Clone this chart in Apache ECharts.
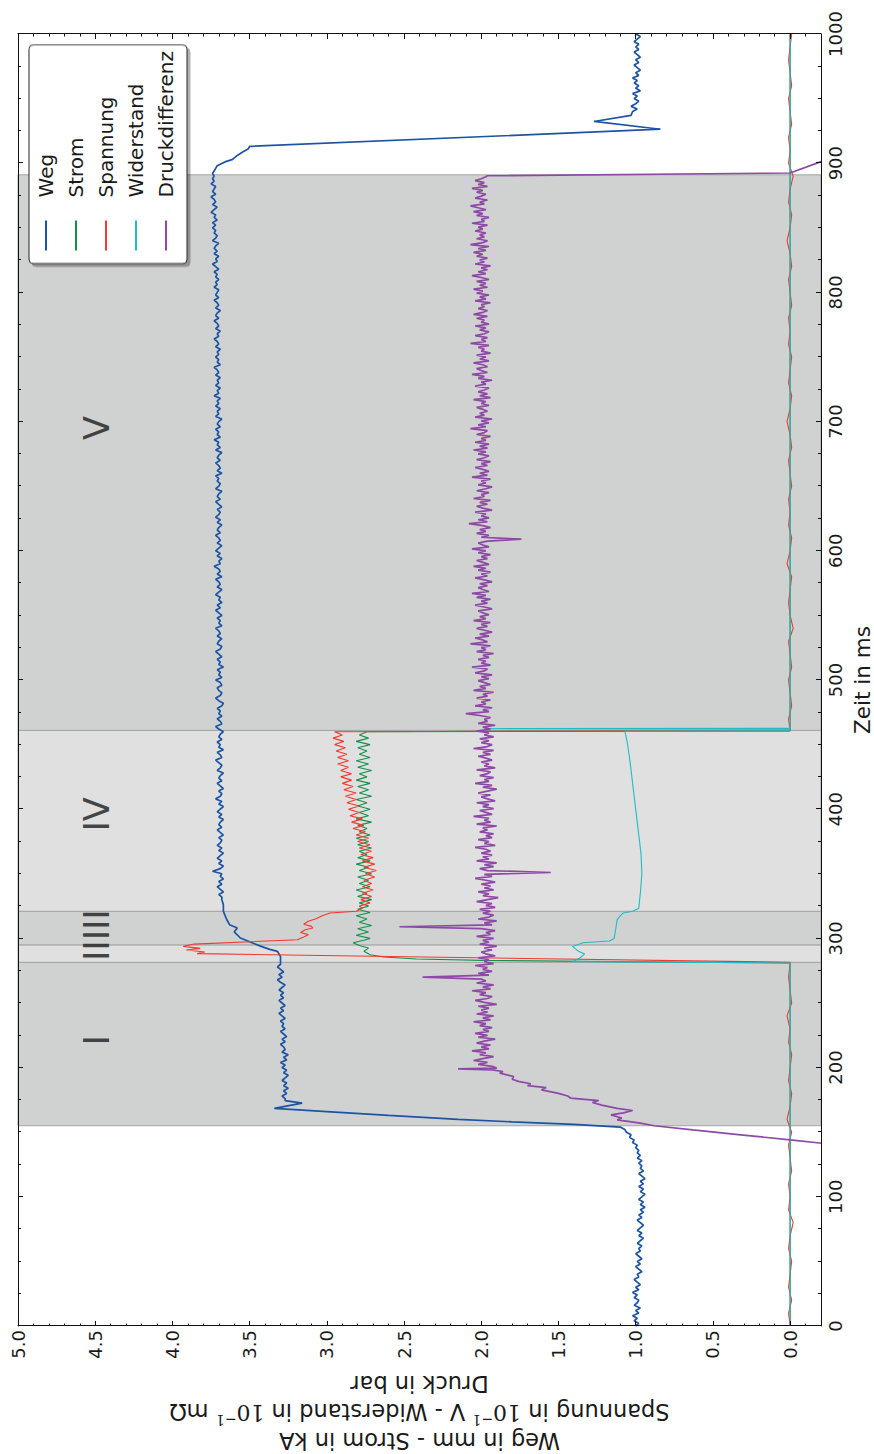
<!DOCTYPE html>
<html>
<head>
<meta charset="utf-8">
<script src="https://cdn.jsdelivr.net/npm/echarts@6/dist/echarts.min.js"></script>
<style>
  html, body { margin: 0; padding: 0; background: #fff; overflow: hidden; width: 874px; height: 1454px; }
  /* the figure is laid out in landscape and turned a quarter turn counter-clockwise */
  #turn { position: absolute; left: 0; top: 0; width: 1454px; height: 874px;
          transform-origin: 0 0; transform: translateY(1454px) rotate(-90deg); }
  #chart { width: 1454px; height: 874px; }
</style>
</head>
<body>
<div id="turn"><div id="chart"></div></div>
<script>
// ---------------- measured data (time in ms) ----------------
const seriesNames = ['Weg', 'Strom', 'Spannung', 'Widerstand', 'Druckdifferenz'];

// Weg [mm]
const wegStart = [ // 0..152 ms, every 2 ms
  1.00, 0.98, 1.01, 0.99, 1.02, 0.98, 1.00, 0.97, 1.01, 0.99,
  0.98, 1.01, 0.99, 1.02, 0.98, 1.00, 0.97, 0.99, 1.01, 0.98,
  0.99, 0.96, 0.98, 1.00, 0.97, 0.99, 0.96, 0.98, 1.00, 0.97,
  0.98, 0.96, 0.99, 0.97, 0.95, 0.98, 0.96, 0.99, 0.97, 0.95,
  0.97, 0.99, 0.96, 0.98, 0.95, 0.97, 0.94, 0.97, 0.95, 0.98,
  0.96, 0.94, 0.97, 0.95, 0.98, 0.95, 0.97, 0.94, 0.96, 0.98,
  0.95, 0.97, 0.96, 0.98, 0.96, 0.99, 0.97, 0.99, 0.98, 1.00,
  0.99, 1.02, 1.01, 1.04, 1.03, 1.06, 1.07];
const wegRise = [[154, 1.10], [156, 1.40], [158, 1.80], [160, 2.15], [163, 2.60], [166, 3.00],
  [168.5, 3.34], [172.5, 3.16], [174.5, 3.27]];
const wegPlateau = [ // 176..280 ms, every 2 ms
  3.27, 3.29, 3.26, 3.28, 3.25, 3.28, 3.26, 3.29, 3.27, 3.25,
  3.28, 3.26, 3.29, 3.27, 3.30, 3.26, 3.28, 3.25, 3.29, 3.27,
  3.28, 3.30, 3.27, 3.29, 3.26, 3.28, 3.30, 3.27, 3.29, 3.28,
  3.30, 3.27, 3.29, 3.31, 3.28, 3.30, 3.27, 3.29, 3.31, 3.28,
  3.30, 3.28, 3.31, 3.29, 3.27, 3.30, 3.32, 3.29, 3.31, 3.28,
  3.30, 3.32, 3.30];
const wegShift = [[286, 3.30], [290, 3.32], [291.5, 3.37], [294, 3.43], [296.4, 3.48], [300.3, 3.56],
  [305, 3.60], [308, 3.58], [310.6, 3.63], [315, 3.65], [320.9, 3.67], [326, 3.67], [330, 3.68]];
const wegHold = [ // 332..890 ms, every 2 ms
  3.68, 3.70, 3.67, 3.69, 3.71, 3.68, 3.70, 3.67, 3.69, 3.68,
  3.74, 3.69, 3.67, 3.70, 3.68, 3.71, 3.69, 3.67, 3.70, 3.68,
  3.71, 3.69, 3.68, 3.70, 3.67, 3.69, 3.71, 3.68, 3.70, 3.69,
  3.67, 3.70, 3.68, 3.71, 3.69, 3.67, 3.70, 3.68, 3.72, 3.69,
  3.68, 3.70, 3.67, 3.69, 3.71, 3.68, 3.70, 3.69, 3.67, 3.71,
  3.69, 3.68, 3.70, 3.72, 3.68, 3.69, 3.71, 3.67, 3.70, 3.69,
  3.71, 3.68, 3.70, 3.69, 3.67, 3.70, 3.72, 3.68, 3.69, 3.71,
  3.68, 3.70, 3.69, 3.71, 3.68, 3.67, 3.70, 3.72, 3.69, 3.68,
  3.70, 3.71, 3.68, 3.69, 3.72, 3.68, 3.70, 3.69, 3.71, 3.67,
  3.70, 3.69, 3.71, 3.68, 3.70, 3.72, 3.69, 3.68, 3.71, 3.70,
  3.68, 3.71, 3.69, 3.70, 3.72, 3.68, 3.70, 3.69, 3.71, 3.68,
  3.70, 3.72, 3.69, 3.71, 3.68, 3.70, 3.69, 3.72, 3.70, 3.68,
  3.71, 3.69, 3.70, 3.72, 3.68, 3.71, 3.69, 3.70, 3.73, 3.69,
  3.70, 3.68, 3.71, 3.69, 3.72, 3.70, 3.68, 3.71, 3.69, 3.70,
  3.72, 3.69, 3.71, 3.70, 3.68, 3.71, 3.69, 3.72, 3.70, 3.69,
  3.71, 3.68, 3.70, 3.72, 3.69, 3.71, 3.70, 3.68, 3.72, 3.70,
  3.69, 3.71, 3.70, 3.72, 3.68, 3.71, 3.69, 3.70, 3.72, 3.69,
  3.71, 3.70, 3.68, 3.72, 3.69, 3.71, 3.70, 3.73, 3.69, 3.71,
  3.70, 3.72, 3.69, 3.71, 3.70, 3.68, 3.72, 3.70, 3.71, 3.69,
  3.72, 3.70, 3.71, 3.69, 3.73, 3.70, 3.71, 3.69, 3.72, 3.70,
  3.71, 3.69, 3.72, 3.70, 3.71, 3.73, 3.69, 3.71, 3.70, 3.72,
  3.70, 3.71, 3.69, 3.72, 3.70, 3.71, 3.73, 3.70, 3.71, 3.69,
  3.72, 3.70, 3.71, 3.73, 3.70, 3.72, 3.71, 3.69, 3.72, 3.70,
  3.71, 3.73, 3.70, 3.72, 3.71, 3.70, 3.73, 3.71, 3.72, 3.70,
  3.72, 3.71, 3.73, 3.70, 3.72, 3.74, 3.71, 3.72, 3.70, 3.73,
  3.71, 3.73, 3.72, 3.70, 3.74, 3.72, 3.71, 3.73, 3.72, 3.74,
  3.72, 3.74, 3.71, 3.73, 3.72, 3.75, 3.73, 3.71, 3.74, 3.72,
  3.73, 3.75, 3.72, 3.74, 3.73, 3.72, 3.75, 3.73, 3.74, 3.73];
const wegDrop = [[892, 3.74], [896, 3.72], [898, 3.71], [901, 3.66], [903, 3.61], [906, 3.58],
  [909, 3.54], [911, 3.51], [913, 3.50], [926.3, 0.84], [932.3, 1.27], [937, 1.03]];
const wegEnd = [ // 940..1000 ms, every 2 ms
  1.02, 0.99, 1.03, 1.00, 0.98, 1.01, 0.99, 1.02, 0.97, 1.00,
  0.98, 1.01, 0.99, 1.02, 0.98, 1.00, 0.97, 0.99, 1.01, 0.98,
  1.00, 0.97, 0.99, 1.01, 0.98, 1.00, 0.98, 1.01, 0.99, 0.97,
  1.00];

// Strom [kA]
const stromRise = [[0, 0], [281, 0.0], [281.6, 0.78], [283, 1.99], [284, 2.42], [285.6, 2.63],
  [287.4, 2.72], [290, 2.76], [292.5, 2.73], [294.5, 2.79], [296.6, 2.83], [298.5, 2.76]];
const stromOsc = [ // 300..460 ms, every 2.5 ms
  2.72, 2.81, 2.73, 2.80, 2.71, 2.79, 2.74, 2.81, 2.72, 2.80,
  2.73, 2.79, 2.71, 2.80, 2.74, 2.81, 2.72, 2.79, 2.73, 2.80,
  2.71, 2.79, 2.73, 2.81, 2.72, 2.80, 2.74, 2.79, 2.71, 2.80,
  2.73, 2.81, 2.72, 2.79, 2.74, 2.80, 2.71, 2.81, 2.73, 2.79,
  2.72, 2.80, 2.74, 2.81, 2.71, 2.79, 2.73, 2.80, 2.72, 2.81,
  2.74, 2.79, 2.71, 2.80, 2.73, 2.81, 2.72, 2.79, 2.74, 2.80,
  2.72, 2.81, 2.73, 2.79, 2.74];
const stromOff = [[460.6, 0.0], [1000, 0.0]];

// Spannung [0.1 V]
const spannungQuiet1 = [ // 0..280 ms, every 10 ms
  0.00, 0.01, -0.01, 0.01, 0.00, -0.01, 0.01, 0.00, -0.02, 0.01,
  0.00, 0.01, -0.01, 0.00, 0.01, -0.01, 0.02, 0.00, -0.01, 0.01,
  0.00, -0.01, 0.01, 0.00, 0.02, -0.01, 0.00, 0.01, 0.00];
const spannungSurge = [[281.5, 0.0], [288.2, 3.84], [289.5, 3.79], [291, 3.91], [292.3, 3.82],
  [293.8, 3.93], [295.6, 3.86], [299, 3.19], [301, 3.15], [302.9, 3.12], [304.5, 3.17],
  [306.7, 3.14], [308, 3.09], [309.3, 3.10], [311, 3.15], [313.3, 3.12], [315.2, 3.07],
  [317.5, 3.03], [319.7, 2.98], [321, 2.81], [323.4, 2.77]];
const spannungOsc = [ // 325..460 ms, every 2.5 ms
  2.79, 2.72, 2.78, 2.71, 2.77, 2.70, 2.77, 2.71, 2.76, 2.69,
  2.75, 2.68, 2.76, 2.69, 2.77, 2.70, 2.78, 2.71, 2.79, 2.72,
  2.80, 2.73, 2.81, 2.75, 2.83, 2.76, 2.84, 2.77, 2.85, 2.79,
  2.86, 2.79, 2.87, 2.81, 2.88, 2.81, 2.89, 2.83, 2.90, 2.84,
  2.91, 2.84, 2.91, 2.86, 2.93, 2.86, 2.93, 2.87, 2.94, 2.88,
  2.95, 2.89, 2.96, 2.90, 2.95];
const spannungCut = [[460.8, 0.0]];
const spannungQuiet2 = [ // 470..1000 ms, every 10 ms
  0.01, -0.01, 0.00, 0.01, -0.01, 0.00, 0.01, -0.02, 0.00, 0.01,
  0.00, -0.01, 0.02, 0.00, -0.01, 0.01, 0.00, 0.01, -0.01, 0.00,
  0.01, -0.01, 0.00, 0.02, 0.00, -0.01, 0.01, 0.00, -0.01, 0.01,
  0.00, 0.01, -0.01, 0.00, 0.01, -0.01, 0.00, 0.02, 0.00, -0.01,
  0.01, 0.00, -0.02, 0.01, 0.00, 0.01, -0.01, 0.00, 0.01, -0.01,
  0.00, 0.01, 0.00, -0.01];

// Widerstand [0.1 mOhm]
const widerstandPoints = [[0, 0], [281, 0.0], [282, 1.41], [285, 1.36], [288, 1.33], [290, 1.37],
  [293.8, 1.41], [296.6, 1.34], [298, 1.17], [300, 1.14], [306.7, 1.13], [314.5, 1.12],
  [317.5, 1.10], [319.7, 1.08], [321, 1.02], [323.4, 0.98], [335, 0.97], [350, 0.96],
  [365, 0.965], [380, 0.98], [395, 0.995], [410, 1.01], [425, 1.025], [440, 1.04],
  [452, 1.055], [460.3, 1.07], [460.8, 0.0], [461.9, 0.0], [462.3, 1.98], [462.7, 0.0], [1000, 0.0]];

// Druckdifferenz [bar]
const druckRamp = [[136, -0.65], [144, 0.0], [148, 0.32], [151.8, 0.63], [155, 0.88], [157, 0.97],
  [159.6, 1.12], [161, 1.09], [163.4, 1.16], [165, 1.08], [166.8, 1.02], [168.5, 1.12], [171, 1.22],
  [173, 1.28], [174.5, 1.24], [176.3, 1.42], [178, 1.44], [180, 1.50], [182.8, 1.61], [184.5, 1.58],
  [186, 1.70], [187.5, 1.68], [189.3, 1.76], [191, 1.80], [193, 1.79], [195.7, 1.88], [197, 1.86],
  [198.2, 1.93], [199, 2.15], [199.6, 1.90]];
const druckNoise = [ // 201..889.5 ms, every 1.5 ms
  1.93, 2.02, 1.96, 2.05, 1.99, 1.92, 2.01, 1.97, 2.06, 1.95,
  2.00, 1.94, 2.03, 1.98, 1.91, 2.02, 1.96, 2.04, 1.95, 1.99,
  1.93, 2.01, 1.97, 2.05, 1.94, 1.99, 1.92, 2.03, 1.96, 2.00,
  1.95, 2.02, 1.90, 1.98, 2.04, 1.96, 1.93, 2.01, 1.97, 2.06,
  1.94, 1.99, 1.92, 2.03, 1.97, 2.00, 2.38, 1.95, 2.02, 1.93,
  1.99, 1.96, 2.04, 1.92, 1.98, 1.95, 2.02, 1.91, 1.97, 2.00,
  1.93, 1.98, 1.90, 2.01, 1.95, 1.99, 1.92, 2.03, 1.94, 1.97,
  1.91, 2.00, 2.53, 1.93, 1.98, 1.90, 2.02, 1.95, 1.92, 1.99,
  1.94, 2.01, 1.91, 1.97, 1.93, 2.03, 1.96, 1.89, 1.99, 1.95,
  2.02, 1.92, 1.98, 1.94, 2.00, 1.91, 1.97, 2.04, 1.93, 1.98,
  1.55, 1.96, 2.01, 1.92, 1.98, 1.90, 2.03, 1.95, 1.99, 1.93,
  2.00, 1.94, 1.97, 2.04, 1.91, 1.98, 1.95, 2.02, 1.93, 1.97,
  1.92, 2.01, 1.96, 1.99, 1.90, 2.03, 1.94, 1.98, 1.95, 2.05,
  1.93, 1.97, 2.01, 1.92, 1.99, 1.95, 2.03, 1.91, 1.96, 2.00,
  1.94, 2.02, 1.96, 1.90, 1.99, 1.93, 2.04, 1.95, 1.98, 1.92,
  2.01, 1.96, 1.94, 2.03, 1.91, 1.98, 1.95, 2.00, 1.93, 1.97,
  2.02, 1.94, 1.99, 1.92, 2.05, 1.96, 1.93, 2.00, 1.95, 2.01,
  1.92, 1.98, 1.95, 2.03, 1.94, 1.99, 1.91, 2.02, 1.96, 1.98,
  1.94, 2.01, 2.10, 1.95, 1.99, 1.93, 2.04, 1.97, 2.00, 1.94,
  2.03, 1.96, 1.99, 1.92, 2.05, 1.97, 2.01, 1.94, 1.98, 2.02,
  1.95, 2.00, 1.93, 2.04, 1.98, 1.96, 2.06, 1.94, 2.00, 1.97,
  2.02, 1.95, 1.99, 1.92, 2.03, 1.97, 2.00, 1.94, 2.07, 1.96,
  1.99, 2.04, 1.95, 2.01, 1.93, 1.98, 2.03, 1.96, 2.00, 1.94,
  2.05, 1.97, 2.01, 1.95, 1.99, 2.02, 1.93, 1.98, 2.04, 1.96,
  2.00, 1.94, 2.03, 1.97, 2.06, 1.95, 1.99, 2.02, 1.96, 2.01,
  1.93, 1.98, 2.04, 1.96, 2.00, 1.94, 2.02, 1.97, 2.05, 1.95,
  1.99, 2.03, 1.96, 2.00, 1.94, 2.02, 1.97, 2.06, 1.95, 1.99,
  2.02, 1.96, 1.74, 2.00, 1.95, 2.03, 1.97, 2.01, 1.94, 1.99,
  2.08, 1.96, 2.02, 1.95, 2.00, 1.97, 2.04, 1.93, 1.99, 2.03,
  1.96, 2.01, 1.94, 2.05, 1.98, 2.00, 1.95, 2.03, 1.97, 1.93,
  2.02, 1.97, 2.00, 1.94, 2.06, 1.96, 2.01, 1.95, 1.99, 2.04,
  1.96, 2.00, 1.94, 2.03, 1.98, 1.95, 2.02, 1.97, 2.05, 1.96,
  2.01, 1.95, 2.04, 1.97, 2.00, 1.94, 2.03, 1.98, 1.96, 2.07,
  1.97, 2.02, 1.95, 2.00, 1.93, 2.04, 1.98, 2.01, 1.96, 1.99,
  2.03, 1.95, 2.00, 1.97, 2.05, 1.94, 2.01, 1.96, 2.02, 1.98,
  1.95, 2.04, 1.97, 2.00, 1.93, 2.02, 1.98, 2.06, 1.96, 2.00,
  2.03, 1.96, 1.99, 2.05, 1.95, 2.01, 1.97, 2.03, 1.94, 2.00,
  1.98, 2.02, 1.95, 2.07, 1.97, 2.00, 1.96, 2.04, 1.98, 1.95,
  2.01, 1.97, 2.04, 1.95, 2.00, 1.98, 2.03, 1.96, 2.05, 1.99,
  1.96, 2.02, 1.98, 2.00, 1.94, 2.04, 1.97, 2.01, 1.95, 2.03,
  1.99, 2.05, 1.96, 2.01, 1.97, 2.03, 1.95, 2.00, 2.06, 1.97,
  2.02, 1.96, 2.00, 1.94, 2.04, 1.98, 2.01, 1.96, 2.03, 1.99,
  2.05, 1.97, 2.02, 1.95, 2.07, 1.99, 1.96, 2.03, 1.98, 2.01,
  1.97, 2.04, 1.99, 2.02, 1.96, 2.06, 1.98, 2.00, 1.95, 2.03,
  1.99, 2.05, 1.97, 2.02, 2.07, 1.98, 2.01, 1.96, 2.04, 2.00,
  1.97, 2.03, 1.99, 2.06, 1.96, 2.02, 1.98, 2.04, 2.00, 1.97];
const druckFall = [[890.3, 1.96], [892.4, 0.0], [901.2, -0.2], [915, -0.55]];

// process phases
const phaseNames = ['I', 'II', 'III', 'IV', 'V'];
const phaseBounds = [155, 281.5, 295, 321, 461, 891];
const phaseLabelTimes = [221, 290.5, 310.5, 396, 695];
const phaseLabelLevel = 4.49;

// axis ranges
const timeRange = [0, 1000];
const valueRange = [-0.2, 5.0];

// ---------------- chart ----------------
const FONT = 'DejaVu Sans';
const INK = '#1a1a1a';
const colors = ['#1c54a4', '#13914b', '#f2382f', '#1fbcc4', '#8e48a6'];
const phaseShades = ['#d0d2d2', '#e0e0e0', '#d0d2d2', '#e0e0e0', '#d0d2d2'];

const seq = (t0, step, values) => values.map((v, i) => [+(t0 + i * step).toFixed(2), v]);

const seriesData = [
  [...seq(0, 2, wegStart), ...wegRise, ...seq(176, 2, wegPlateau), ...wegShift,
   ...seq(332, 2, wegHold), ...wegDrop, ...seq(940, 2, wegEnd)],
  [...stromRise, ...seq(300, 2.5, stromOsc), ...stromOff],
  [...seq(0, 10, spannungQuiet1), ...spannungSurge, ...seq(325, 2.5, spannungOsc),
   ...spannungCut, ...seq(470, 10, spannungQuiet2)],
  widerstandPoints,
  [...druckRamp, ...seq(201, 1.5, druckNoise), ...druckFall]
];
const lineWidths = [1.7, 1.1, 1.1, 1.1, 1.7];

const tickStyle = { color: '#111', width: 1 };
function timeAxis(pos, withLabels) {
  return {
    type: 'value', position: pos, min: timeRange[0], max: timeRange[1], interval: 100, z: 10,
    axisLine: { show: true, onZero: false, lineStyle: tickStyle },
    axisTick: { show: true, inside: true, length: 5, lineStyle: tickStyle },
    minorTick: { show: true, splitNumber: 4, length: 3, lineStyle: tickStyle },
    splitLine: { show: false }, minorSplitLine: { show: false },
    axisLabel: { show: withLabels, margin: 5, fontSize: 18, color: INK, fontFamily: FONT,
      formatter: v => String(v) },
    name: withLabels ? 'Zeit in ms' : '', nameLocation: 'middle', nameGap: 30,
    nameTextStyle: { fontSize: 21.5, color: INK, fontFamily: FONT }
  };
}
function valueAxis(pos, minor, withLabels) {
  const ax = {
    type: 'value', position: pos, min: valueRange[0], max: valueRange[1], z: 10,
    axisLine: { show: !minor, onZero: false, lineStyle: tickStyle },
    axisTick: { show: true, inside: true, length: minor ? 2.5 : 5, lineStyle: tickStyle },
    splitLine: { show: false },
    axisLabel: { show: false }
  };
  if (minor) ax.interval = 0.1; else ax.splitNumber = 10;
  if (withLabels) {
    ax.axisLabel = { show: true, showMinLabel: false, margin: 4, fontSize: 18, color: INK,
      fontFamily: FONT, formatter: v => v.toFixed(1) };
    ax.name = 'Weg in mm - Strom in kA\n' +
      'Spannung in {m|10}{s|−1} V - Widerstand in {m|10}{s|−1} mΩ\n' +
      'Druck in bar';
    ax.nameLocation = 'middle';
    ax.nameGap = 29;
    ax.nameTextStyle = {
      fontSize: 22.5, color: INK, fontFamily: FONT, lineHeight: 28.5,
      rich: {
        m: { fontSize: 22, fontFamily: 'DejaVu Serif', color: INK, lineHeight: 28.5 },
        s: { fontSize: 14, fontFamily: 'DejaVu Serif', color: INK, lineHeight: 18, verticalAlign: 'top' }
      }
    };
  }
  return ax;
}

const lineSeries = seriesNames.map((name, i) => ({
  name, type: 'line', data: seriesData[i], xAxisIndex: 0, yAxisIndex: 0,
  showSymbol: false, symbol: 'none', silent: true, z: 3, clip: true,
  color: colors[i], lineStyle: { color: colors[i], width: lineWidths[i] },
  emphasis: { disabled: true }
}));

const phaseSeries = {
  name: 'Phasen', type: 'scatter', xAxisIndex: 0, yAxisIndex: 0, z: 4, silent: true,
  data: phaseNames.map((n, i) => [phaseLabelTimes[i], phaseLabelLevel, n]),
  symbolSize: 1, itemStyle: { color: 'rgba(0,0,0,0)' },
  label: { show: true, position: 'inside', formatter: p => p.value[2],
    fontSize: 35, color: INK, fontFamily: FONT },
  markArea: {
    silent: true, label: { show: false },
    itemStyle: { borderColor: '#a4a4a4', borderWidth: 1 },
    data: phaseNames.map((n, i) => [
      { xAxis: phaseBounds[i], itemStyle: { color: phaseShades[i] } },
      { xAxis: phaseBounds[i + 1] }
    ])
  }
};

const chart = echarts.init(document.getElementById('chart'), null, { renderer: 'svg' });
chart.setOption({
  animation: false,
  textStyle: { fontFamily: FONT },
  grid: { left: 128, right: 34, top: 18, bottom: 53, containLabel: false, outerBoundsMode: 'none' },
  xAxis: [timeAxis('bottom', true), timeAxis('top', false)],
  yAxis: [valueAxis('left', false, true), valueAxis('left', true, false),
          valueAxis('right', false, false), valueAxis('right', true, false)],
  legend: {
    data: seriesNames, orient: 'vertical', right: 45, top: 29, z: 20,
    icon: 'rect', itemWidth: 30, itemHeight: 2, itemGap: 10,
    padding: [7, 6, 11, 13], backgroundColor: '#fff',
    borderColor: '#222', borderWidth: 1, borderRadius: 4,
    shadowColor: 'rgba(0,0,0,0.3)', shadowBlur: 1, shadowOffsetX: -3, shadowOffsetY: 3,
    selectedMode: false,
    textStyle: { fontSize: 20, color: INK, fontFamily: FONT, lineHeight: 20, padding: [0, 0, 0, 18] }
  },
  series: [phaseSeries, ...lineSeries]
});
</script>
</body>
</html>
